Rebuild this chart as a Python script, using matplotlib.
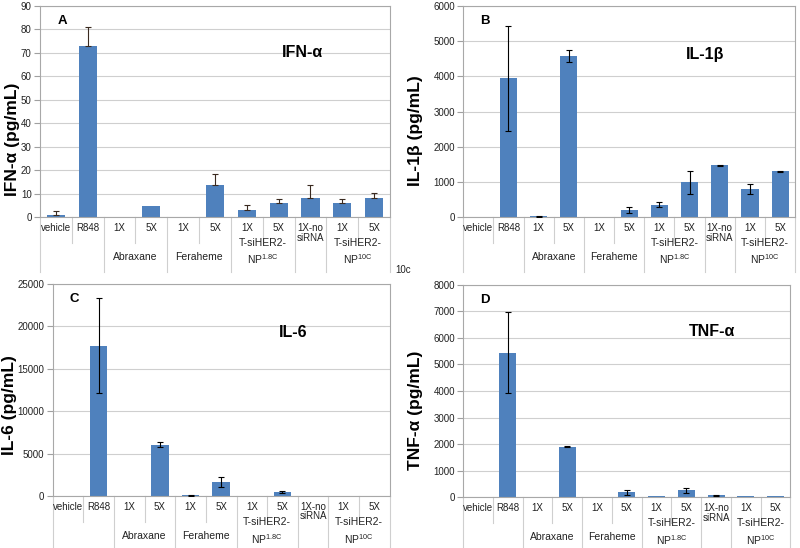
import numpy as np
import matplotlib
matplotlib.use('Agg')
import matplotlib.pyplot as plt
import matplotlib.transforms as mtransforms

plt.rcParams['font.family'] = ['Liberation Sans', 'DejaVu Sans']
plt.rcParams['mathtext.default'] = 'regular'

categories = ['vehicle', 'R848', '1X', '5X', '1X', '5X', '1X', '5X', '1X-no\nsiRNA', '1X', '5X']
# group label lines, first and last category index
groups = [(['Abraxane'], 2, 3), (['Feraheme'], 4, 5),
          (['T-siHER2-', 'NP$^{1.8C}$'], 6, 7), (['T-siHER2-', 'NP$^{10C}$'], 9, 10)]
long_lines = [-0.5, 1.5, 3.5, 5.5, 7.5, 8.5, 10.5]
short_lines = [0.5, 2.5, 4.5, 6.5, 9.5]

ifn = [1.0, 73.0, 0, 4.7, 0, 13.8, 3.2, 5.8, 8.2, 5.8, 8.3]
ifn_err = [1.5, 8.0, 0, 0, 0, 4.4, 2.0, 2.0, 5.5, 2.0, 1.9]

il1b = [5, 3940, 20, 4580, 5, 200, 350, 985, 1475, 795, 1300]
il1b_err = [0, 1490, 10, 170, 0, 90, 65, 320, 15, 135, 15]

il6 = [40, 17680, 40, 6060, 80, 1650, 30, 430, 40, 30, 40]
il6_err = [0, 5600, 0, 270, 40, 620, 0, 120, 0, 0, 0]

tnf = [10, 5450, 20, 1900, 15, 180, 30, 250, 70, 40, 30]
tnf_err = [0, 1540, 0, 25, 0, 100, 0, 80, 15, 0, 0]

panels = [
    # rect, values, errors, ylim, step, ylabel, letter, title, title pos, label x, label y, one-sided
    ([0.050, 0.604, 0.4375, 0.385], ifn, ifn_err, 90, 10, 'IFN-α (pg/mL)', 'A', 'IFN-α', (0.75, 0.78), -0.058, 0.37, True),
    ([0.579, 0.604, 0.415, 0.385], il1b, il1b_err, 6000, 1000, 'IL-1β (pg/mL)', 'B', 'IL-1β', (0.73, 0.77), -0.12, 0.41, False),
    ([0.066, 0.095, 0.421, 0.387], il6, il6_err, 25000, 5000, 'IL-6 (pg/mL)', 'C', 'IL-6', (0.715, 0.77), -0.105, 0.43, False),
    ([0.579, 0.093, 0.409, 0.387], tnf, tnf_err, 8000, 1000, 'TNF-α (pg/mL)', 'D', 'TNF-α', (0.76, 0.78), -0.122, 0.41, False),
]

fig = plt.figure(figsize=(8, 5.48), dpi=100)
grid_c = '#CFCFCF'
txt_c = '#222222'
x = np.arange(len(categories))

for rect, vals, errs, ymax, step, ylabel, letter, title, tpos, lx, ly, one_sided in panels:
    ax = fig.add_axes(rect)
    vals = np.array(vals, dtype=float)
    errs = np.array(errs, dtype=float)
    ax.bar(x, vals, width=0.57, color='#4F81BD', zorder=2)
    m = errs > 0
    if one_sided:
        yerr = [np.zeros(m.sum()), errs[m]]
        ax.errorbar(x[m], vals[m], yerr=yerr, fmt='none', ecolor='#3a2a20',
                    elinewidth=0.8, capsize=2, capthick=0.8, zorder=3)
    else:
        ax.errorbar(x[m], vals[m], yerr=errs[m], fmt='none', ecolor='black',
                    elinewidth=0.8, capsize=2, capthick=0.8, zorder=3)
    ax.set_xlim(-0.5, len(categories) - 0.5)
    ax.set_ylim(0, ymax)
    ax.set_yticks(np.arange(0, ymax + step, step))
    ax.yaxis.grid(True, color=grid_c, lw=0.8)
    ax.set_axisbelow(True)
    ax.tick_params(axis='y', labelsize=7, length=4, color='#A0A0A0', pad=2, labelcolor=txt_c)
    ax.set_xticks([])
    for s in ax.spines.values():
        s.set_color('#A8A8A8')
        s.set_linewidth(0.8)
    ax.set_ylabel(ylabel, fontsize=12.5, fontweight='bold')
    ax.yaxis.set_label_coords(lx, ly)
    ax.text(0.065, 0.93, letter, transform=ax.transAxes, fontsize=9.5,
            fontweight='bold', ha='center', va='center')
    ax.text(tpos[0], tpos[1], title, transform=ax.transAxes, fontsize=11.5,
            fontweight='bold', ha='center', va='center')

    # multi-level category axis
    trans = mtransforms.blended_transform_factory(ax.transData, ax.transAxes)
    for i, lab in enumerate(categories):
        ax.text(i, -0.028, lab, transform=trans, fontsize=7, ha='center', va='top',
                color=txt_c, linespacing=0.95)
    for lines, a, b in groups:
        if len(lines) == 1:
            ax.text((a + b) / 2, -0.19, lines[0], transform=trans, fontsize=7.5,
                    ha='center', va='center', color=txt_c)
        else:
            ax.text((a + b) / 2, -0.123, lines[0], transform=trans, fontsize=7.5,
                    ha='center', va='center', color=txt_c)
            ax.text((a + b) / 2, -0.225, lines[1], transform=trans, fontsize=7.5,
                    ha='center', va='baseline', color=txt_c)
    for p in long_lines:
        ax.plot([p, p], [0, -0.26], transform=trans, color=grid_c, lw=0.8, clip_on=False)
    for p in short_lines:
        ax.plot([p, p], [0, -0.123], transform=trans, color=grid_c, lw=0.8, clip_on=False)

fig.text(0.494, 0.507, '10c', fontsize=7, ha='left', va='center', color=txt_c)

fig.savefig('out.png', dpi=100)
